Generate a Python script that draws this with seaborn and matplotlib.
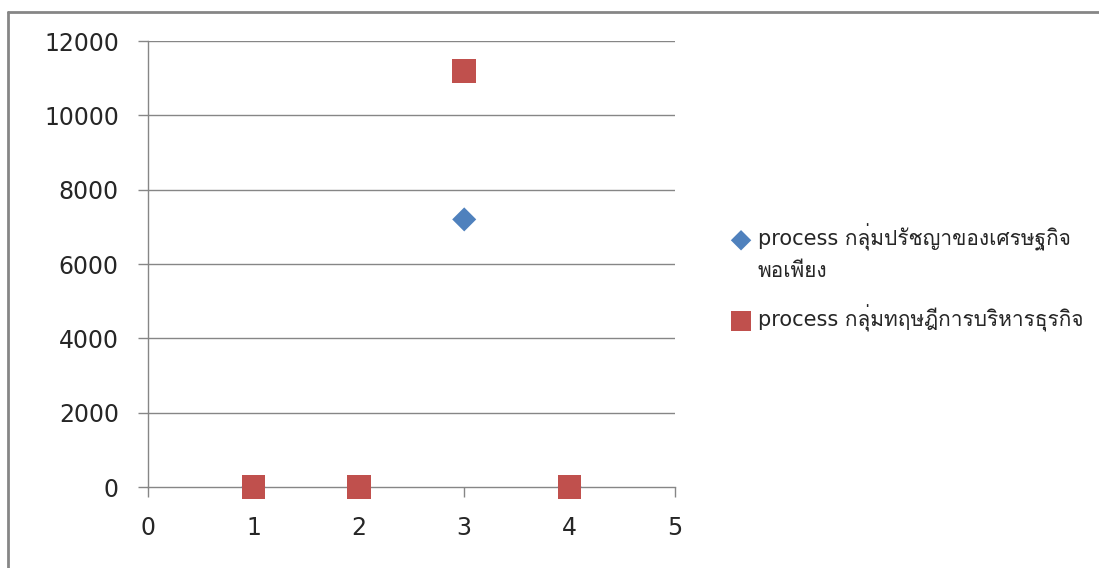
import matplotlib
matplotlib.use("Agg")
import matplotlib.pyplot as plt
from matplotlib import font_manager
from matplotlib.ft2font import FT2Font
from matplotlib.lines import Line2D
import seaborn as sns
import pandas as pd

# data
x_vals = [1, 2, 3, 4]
sufficiency_vals = [0, 0, 7200, 0]
business_vals = [0, 0, 11200, 0]
series_names = ["process กลุ่มปรัชญาของเศรษฐกิจ",
                "process กลุ่มทฤษฎีการบริหารธุรกิจ"]
name_wrap = "พอเพียง"  # second line of the first legend label
x_ticks = [0, 1, 2, 3, 4, 5]
y_ticks = [0, 2000, 4000, 6000, 8000, 10000, 12000]

blue = "#4F81BD"
red = "#C0504D"
grey = "#868686"
text_col = "#262626"


def thai_family():
    # find an installed font that has Thai glyphs
    for f in font_manager.fontManager.ttflist:
        try:
            if FT2Font(f.fname).get_char_index(0x0E01):
                return f.name
        except Exception:
            pass
    return None


sns.set_style("white")
fams = ["DejaVu Sans"]
tf = thai_family()
if tf:
    fams.append(tf)
plt.rcParams["font.family"] = fams

df = pd.DataFrame({
    "x": x_vals * 2,
    "y": sufficiency_vals + business_vals,
    "series": [series_names[0]] * 4 + [series_names[1]] * 4,
})

fig = plt.figure(figsize=(10.99, 5.68), dpi=100)
ax = fig.add_axes([0.1347, 0.1426, 0.4795, 0.7852])

d1 = df[df.series == series_names[0]]
d2 = df[df.series == series_names[1]]
sns.scatterplot(data=d1, x="x", y="y", ax=ax, marker="D", s=150, color=blue,
                edgecolor="none", label=series_names[0], zorder=5, clip_on=False)
sns.scatterplot(data=d2, x="x", y="y", ax=ax, marker="s", s=290, color=red,
                edgecolor="none", label=series_names[1], zorder=6, clip_on=False)

ax.set_xlim(0, 5)
ax.set_ylim(0, 12000)
ax.set_xticks(x_ticks)
ax.set_yticks(y_ticks)
ax.set_xlabel("")
ax.set_ylabel("")
for y in y_ticks[1:]:
    ax.axhline(y, color=grey, lw=1, zorder=1)
for s in ["top", "right"]:
    ax.spines[s].set_visible(False)
for s in ["left", "bottom"]:
    ax.spines[s].set_color(grey)
    ax.spines[s].set_linewidth(1)
ax.tick_params(axis="both", direction="out", length=7, width=1, color=grey,
               labelsize=17, labelcolor=text_col, bottom=True, left=True)
ax.tick_params(axis="y", pad=14)
ax.tick_params(axis="x", pad=14)

leg = ax.legend(loc="center left", bbox_to_anchor=(1.068, 0.469), frameon=False,
                fontsize=15, handletextpad=0.25, labelspacing=2.55,
                handlelength=1.1, markerscale=0.85)
for t in leg.get_texts():
    t.set_color(text_col)

# wrapped second line of the first legend label, under its first line
fig.canvas.draw()
bb = leg.get_texts()[0].get_window_extent()
fig.text(bb.x0 / fig.bbox.width, (bb.y0 - 30) / fig.bbox.height, name_wrap,
         fontsize=15, color=text_col, va="bottom", ha="left")

# outer chart border (only top and left visible in the reference)
fig.add_artist(Line2D([8 / 1099, 1.0], [1 - 12 / 568, 1 - 12 / 568],
                      transform=fig.transFigure, color=grey, lw=2))
fig.add_artist(Line2D([8 / 1099, 8 / 1099], [0, 1 - 12 / 568],
                      transform=fig.transFigure, color=grey, lw=2))

fig.savefig("out.png", dpi=100, facecolor="white")
